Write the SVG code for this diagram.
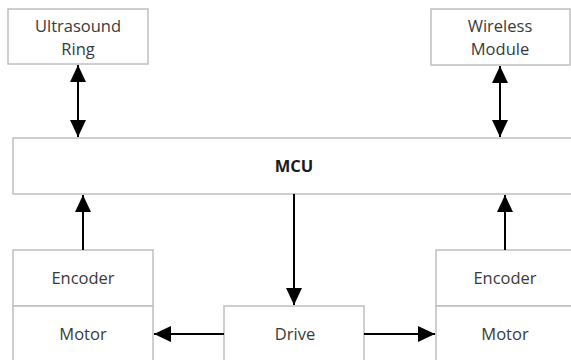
<svg xmlns="http://www.w3.org/2000/svg" width="571" height="360" viewBox="0 0 571 360">
  <defs>
    <style>
      .box { fill: #ffffff; stroke: #bfbfbf; stroke-width: 1.5; }
      .lbl { font-family: "Open Sans", "Liberation Sans", sans-serif; font-size: 16.5px; fill: #3a3a3a; text-anchor: middle; }
      .bold { font-weight: bold; fill: #1a1a1a; }
      .wire { fill: none; stroke: #000000; stroke-width: 2; }
    </style>
    <marker id="head" markerUnits="userSpaceOnUse" markerWidth="18" markerHeight="18" viewBox="0 0 18 18" refX="17" refY="9" orient="auto-start-reverse">
      <path d="M0,1 L17,9 L0,17 Z" fill="#000000"/>
    </marker>
  </defs>
  <rect width="571" height="360" fill="#ffffff"/>

  <g id="ultrasound-ring">
    <rect class="box" x="8" y="9" width="140" height="55"/>
    <text class="lbl" x="78" y="32">Ultrasound</text>
    <text class="lbl" x="78" y="55">Ring</text>
  </g>

  <g id="wireless-module">
    <rect class="box" x="431" y="9" width="139" height="56"/>
    <text class="lbl" x="500" y="32">Wireless</text>
    <text class="lbl" x="500" y="55">Module</text>
  </g>

  <g id="mcu">
    <rect class="box" x="13" y="138" width="565" height="56"/>
    <text class="lbl bold" x="294" y="172">MCU</text>
  </g>

  <g id="left-motor-unit">
    <rect class="box" x="13" y="250" width="140" height="56"/>
    <text class="lbl" x="83" y="284">Encoder</text>
    <rect class="box" x="13" y="306" width="140" height="70"/>
    <text class="lbl" x="83" y="340">Motor</text>
  </g>

  <g id="drive">
    <rect class="box" x="224" y="306" width="140" height="70"/>
    <text class="lbl" x="295" y="340">Drive</text>
  </g>

  <g id="right-motor-unit">
    <rect class="box" x="436" y="250" width="140" height="56"/>
    <text class="lbl" x="505" y="284">Encoder</text>
    <rect class="box" x="436" y="306" width="140" height="70"/>
    <text class="lbl" x="505" y="340">Motor</text>
  </g>

  <g id="connectors">
    <line class="wire" x1="78" y1="65" x2="78" y2="137" marker-start="url(#head)" marker-end="url(#head)"/>
    <line class="wire" x1="500" y1="66" x2="500" y2="137" marker-start="url(#head)" marker-end="url(#head)"/>
    <line class="wire" x1="83" y1="250" x2="83" y2="195" marker-end="url(#head)"/>
    <line class="wire" x1="505" y1="250" x2="505" y2="195" marker-end="url(#head)"/>
    <line class="wire" x1="294" y1="194" x2="294" y2="305" marker-end="url(#head)"/>
    <line class="wire" x1="224" y1="334" x2="154" y2="334" marker-end="url(#head)"/>
    <line class="wire" x1="364" y1="334" x2="435" y2="334" marker-end="url(#head)"/>
  </g>
</svg>
